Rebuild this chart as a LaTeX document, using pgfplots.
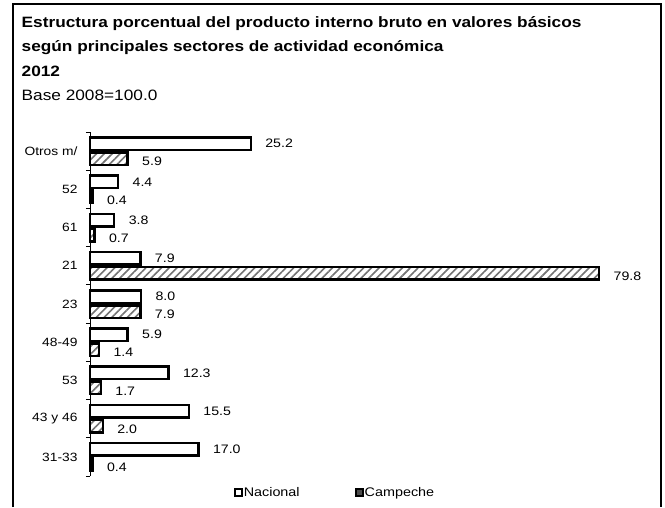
\documentclass[border=0pt]{standalone}
\usepackage{fontspec}
\setmainfont{Liberation Sans}[FakeStretch=1.15]
\usepackage{pgfplots}
\usepackage{pgfplotstable}
\pgfplotsset{compat=1.18}
\usetikzlibrary{patterns.meta}

% sectors from bottom (0) to top (8)
\pgfplotstableread{
idx nacional campeche
0   17.0     0.4
1   15.5     2.0
2   12.3     1.7
3   5.9      1.4
4   8.0      7.9
5   7.9      79.8
6   3.8      0.7
7   4.4      0.4
8   25.2     5.9
}\pibdata

\begin{document}
\begin{tikzpicture}[x=1pt,y=1pt]
\useasboundingbox (0,0) rectangle (665,507);
\draw[line width=1.2pt] (13,0) -- (13,503) -- (661,503) -- (661,0);

\node[anchor=base west, inner sep=0, font=\bfseries\fontsize{15}{18}\selectfont] at (21.5,479)
  {Estructura porcentual del producto interno bruto en valores básicos};
\node[anchor=base west, inner sep=0, font=\bfseries\fontsize{15}{18}\selectfont] at (21.5,455)
  {según principales sectores de actividad económica};
\node[anchor=base west, inner sep=0, font=\bfseries\fontsize{15}{18}\selectfont] at (21.5,430)
  {2012};
\node[anchor=base west, inner sep=0, font=\fontsize{15}{18}\selectfont] at (21.5,406)
  {Base 2008=100.0};

\begin{axis}[
  at={(90pt,31pt)}, anchor=south west,
  scale only axis, width=510.4pt, height=344pt,
  xmin=0, xmax=80, ymin=-0.5, ymax=8.5,
  xbar, bar width=12.5pt, clip=false,
  axis x line=none, axis y line*=left,
  y axis line style={-, line width=0.8pt},
  ytick={0,...,8},
  yticklabels={31-33,43 y 46,53,48-49,23,21,61,52,Otros m/},
  yticklabel style={font=\fontsize{12}{14}\selectfont, xshift=-9pt},
  major tick length=0pt,
  minor ytick={-0.5,0.5,...,8.5},
  minor tick length=4pt, tick align=outside,
  minor tick style={line width=0.8pt, black},
  point meta=x,
  /pgf/number format/fixed, /pgf/number format/fixed zerofill,
  /pgf/number format/precision=1, /pgf/number format/assume math mode=true,
  legend style={at={(0.479,-0.049)}, anchor=center, draw=none, fill=none,
    legend columns=2, font=\fontsize{12.5}{15}\selectfont,
    nodes={inner sep=1pt},
    /tikz/every even column/.append style={column sep=54pt}},
  legend cell align=left,
]
\addplot[draw=black, line width=2.5pt, fill=white, bar shift=7.5pt,
  nodes near coords,
  every node near coord/.append style={font=\fontsize{12.3}{14}\selectfont, anchor=west, xshift=10pt},
  legend image code/.code={\draw[line width=2pt, fill=white] (0pt,-3.5pt) rectangle (7pt,3.5pt);}]
  table[x=nacional, y=idx] {\pibdata};
\addlegendentry{Nacional}
\addplot[draw=black, line width=2.5pt, pattern={Lines[angle=45,distance=5.5pt,line width=1.6pt]},
  pattern color=black!55, bar shift=-7.5pt,
  nodes near coords,
  every node near coord/.append style={font=\fontsize{12.3}{14}\selectfont, anchor=west, xshift=10pt, yshift=-3pt},
  legend image code/.code={\draw[line width=2pt, fill=black!70] (0pt,-3.5pt) rectangle (7pt,3.5pt);}]
  table[x=campeche, y=idx] {\pibdata};
\addlegendentry{Campeche}
\end{axis}
\end{tikzpicture}
\end{document}
